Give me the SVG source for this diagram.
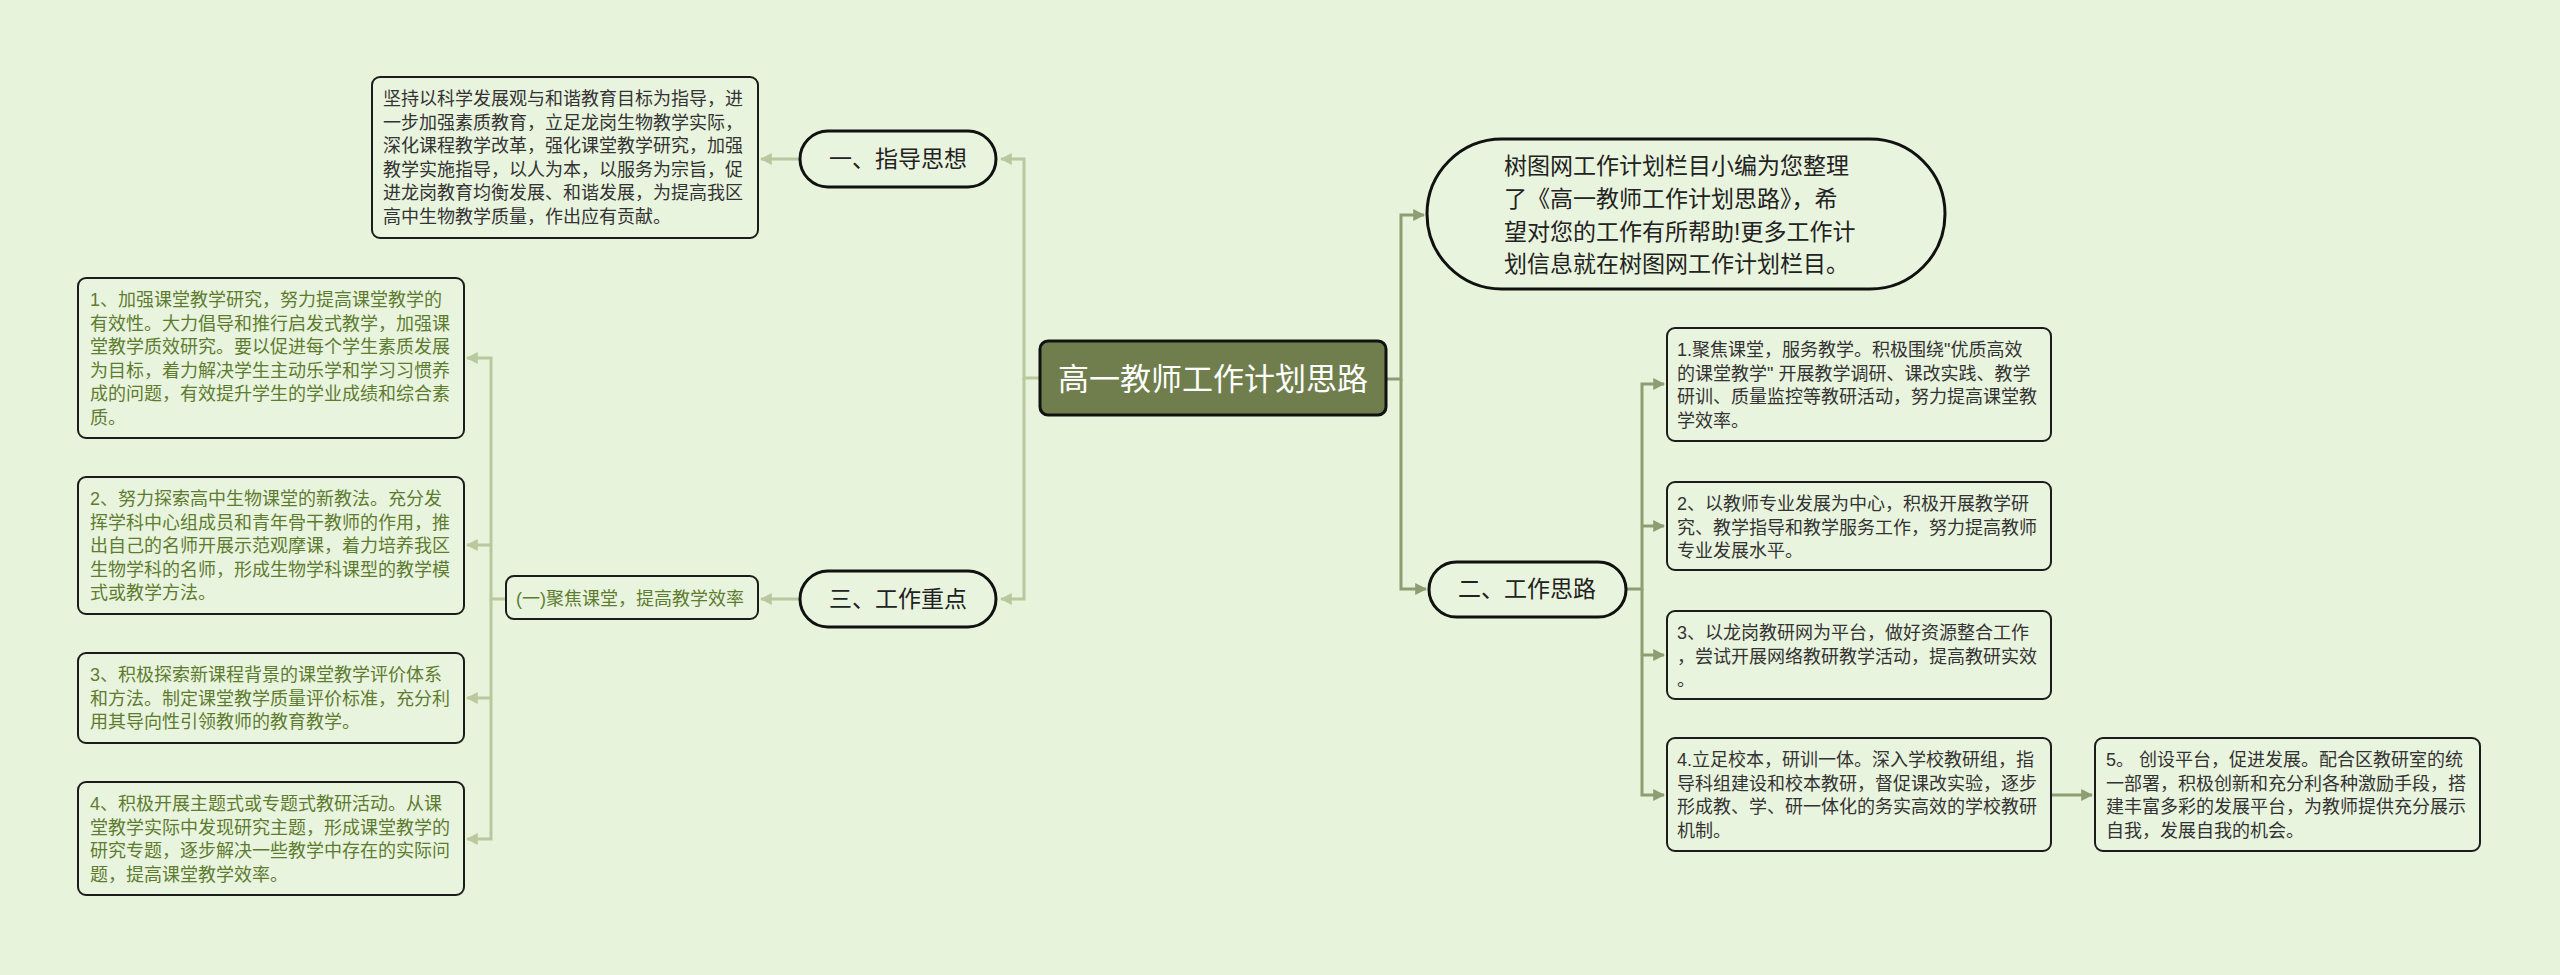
<svg xmlns="http://www.w3.org/2000/svg" width="2560" height="975" viewBox="0 0 2560 975">
<defs>
<style>
.t{font-family:"Liberation Sans","Noto Sans CJK SC",sans-serif;}
.box{fill:#e9f4de;stroke:#1c1c1c;stroke-width:2;}
.pill{fill:#e9f4de;stroke:#111;stroke-width:3;}
.lt{font-size:18px;fill:#5e7c30;}
.rt{font-size:18px;fill:#333;}
.pt{font-size:23px;fill:#222;text-anchor:middle;}
.cl{fill:none;stroke:#b8c9a0;stroke-width:3;}
.cr{fill:none;stroke:#8f9e72;stroke-width:3;}
</style>
<marker id="al" viewBox="0 0 10 10" refX="9" refY="5" markerWidth="4" markerHeight="4" orient="auto" markerUnits="strokeWidth"><path d="M0,0 L10,5 L0,10 z" fill="#b8c9a0"/></marker>
<marker id="ar" viewBox="0 0 10 10" refX="9" refY="5" markerWidth="4" markerHeight="4" orient="auto" markerUnits="strokeWidth"><path d="M0,0 L10,5 L0,10 z" fill="#8f9e72"/></marker>
</defs>
<rect width="2560" height="975" fill="#e7f3da"/>
<g id="connectors">
<path class="cl" d="M1040,378 H1024 V159 H1001" marker-end="url(#al)"/>
<path class="cl" d="M1024,378 V599 H1001" marker-end="url(#al)"/>
<path class="cl" d="M800,159 H761" marker-end="url(#al)"/>
<path class="cl" d="M800,599 H761" marker-end="url(#al)"/>
<path class="cl" d="M506,599 H491 V358 H467" marker-end="url(#al)"/>
<path class="cl" d="M491,599 V839 H467" marker-end="url(#al)"/>
<path class="cl" d="M491,545 H467" marker-end="url(#al)"/>
<path class="cl" d="M491,698 H467" marker-end="url(#al)"/>
<path class="cr" d="M1387,379 H1401 V215 H1424" marker-end="url(#ar)"/>
<path class="cr" d="M1401,379 V589 H1426" marker-end="url(#ar)"/>
<path class="cr" d="M1626,589 H1642 V384 H1664" marker-end="url(#ar)"/>
<path class="cr" d="M1642,589 V795 H1664" marker-end="url(#ar)"/>
<path class="cr" d="M1642,526 H1664" marker-end="url(#ar)"/>
<path class="cr" d="M1642,655 H1664" marker-end="url(#ar)"/>
<path class="cr" d="M2051,795 H2092" marker-end="url(#ar)"/>
</g>
<g id="center">
<rect x="1040" y="341" width="346" height="74" rx="8" fill="#707e4e" stroke="#111" stroke-width="3"/>
<text class="t" x="1213" y="390" font-size="31" fill="#fff" text-anchor="middle">高一教师工作计划思路</text>
</g>
<g id="intro">
<rect class="pill" x="1427" y="139" width="518" height="150" rx="75"/>
<text class="t" font-size="23" fill="#222"><tspan x="1504" y="174">树图网工作计划栏目小编为您整理</tspan><tspan x="1504" y="207">了《高一教师工作计划思路》，希</tspan><tspan x="1504" y="240">望对您的工作有所帮助!更多工作计</tspan><tspan x="1504" y="272">划信息就在树图网工作计划栏目。</tspan></text>
</g>
<g id="guide">
<rect class="pill" x="800" y="131" width="196" height="56" rx="28"/>
<text class="t pt" x="898" y="167">一、指导思想</text>
</g>
<g id="guide-text">
<rect class="box" x="372" y="77" width="386" height="161" rx="8"/>
<text class="t rt"><tspan x="383" y="105">坚持以科学发展观与和谐教育目标为指导，进</tspan><tspan x="383" y="128.5">一步加强素质教育，立足龙岗生物教学实际，</tspan><tspan x="383" y="152">深化课程教学改革，强化课堂教学研究，加强</tspan><tspan x="383" y="175.5">教学实施指导，以人为本，以服务为宗旨，促</tspan><tspan x="383" y="199">进龙岗教育均衡发展、和谐发展，为提高我区</tspan><tspan x="383" y="222.5">高中生物教学质量，作出应有贡献。</tspan></text>
</g>
<g id="focus">
<rect class="pill" x="800" y="571" width="196" height="56" rx="28"/>
<text class="t pt" x="898" y="607">三、工作重点</text>
</g>
<g id="focus-1">
<rect class="box" x="506" y="576" width="252" height="43" rx="8"/>
<text class="t lt" x="516" y="605">(一)聚焦课堂，提高教学效率</text>
</g>
<g id="l1">
<rect class="box" x="78" y="278" width="386" height="160" rx="8"/>
<text class="t lt"><tspan x="90" y="306">1、加强课堂教学研究，努力提高课堂教学的</tspan><tspan x="90" y="329.5">有效性。大力倡导和推行启发式教学，加强课</tspan><tspan x="90" y="353">堂教学质效研究。要以促进每个学生素质发展</tspan><tspan x="90" y="376.5">为目标，着力解决学生主动乐学和学习习惯养</tspan><tspan x="90" y="400">成的问题，有效提升学生的学业成绩和综合素</tspan><tspan x="90" y="423.5">质。</tspan></text>
</g>
<g id="l2">
<rect class="box" x="78" y="477" width="386" height="137" rx="8"/>
<text class="t lt"><tspan x="90" y="505">2、努力探索高中生物课堂的新教法。充分发</tspan><tspan x="90" y="528.5">挥学科中心组成员和青年骨干教师的作用，推</tspan><tspan x="90" y="552">出自己的名师开展示范观摩课，着力培养我区</tspan><tspan x="90" y="575.5">生物学科的名师，形成生物学科课型的教学模</tspan><tspan x="90" y="599">式或教学方法。</tspan></text>
</g>
<g id="l3">
<rect class="box" x="78" y="653" width="386" height="90" rx="8"/>
<text class="t lt"><tspan x="90" y="681">3、积极探索新课程背景的课堂教学评价体系</tspan><tspan x="90" y="704.5">和方法。制定课堂教学质量评价标准，充分利</tspan><tspan x="90" y="728">用其导向性引领教师的教育教学。</tspan></text>
</g>
<g id="l4">
<rect class="box" x="78" y="782" width="386" height="113" rx="8"/>
<text class="t lt"><tspan x="90" y="810">4、积极开展主题式或专题式教研活动。从课</tspan><tspan x="90" y="833.5">堂教学实际中发现研究主题，形成课堂教学的</tspan><tspan x="90" y="857">研究专题，逐步解决一些教学中存在的实际问</tspan><tspan x="90" y="880.5">题，提高课堂教学效率。</tspan></text>
</g>
<g id="ideas">
<rect class="pill" x="1429" y="562" width="197" height="55" rx="27.5"/>
<text class="t pt" x="1527" y="597">二、工作思路</text>
</g>
<g id="r1">
<rect class="box" x="1667" y="328" width="384" height="113" rx="8"/>
<text class="t rt"><tspan x="1677" y="356">1.聚焦课堂，服务教学。积极围绕"优质高效</tspan><tspan x="1677" y="379.5">的课堂教学" 开展教学调研、课改实践、教学</tspan><tspan x="1677" y="403">研训、质量监控等教研活动，努力提高课堂教</tspan><tspan x="1677" y="426.5">学效率。</tspan></text>
</g>
<g id="r2">
<rect class="box" x="1667" y="482" width="384" height="88" rx="8"/>
<text class="t rt"><tspan x="1677" y="510">2、以教师专业发展为中心，积极开展教学研</tspan><tspan x="1677" y="533.5">究、教学指导和教学服务工作，努力提高教师</tspan><tspan x="1677" y="557">专业发展水平。</tspan></text>
</g>
<g id="r3">
<rect class="box" x="1667" y="611" width="384" height="88" rx="8"/>
<text class="t rt"><tspan x="1677" y="639">3、以龙岗教研网为平台，做好资源整合工作</tspan><tspan x="1677" y="662.5">，尝试开展网络教研教学活动，提高教研实效</tspan><tspan x="1677" y="686">。</tspan></text>
</g>
<g id="r4">
<rect class="box" x="1667" y="738" width="384" height="113" rx="8"/>
<text class="t rt"><tspan x="1677" y="766">4.立足校本，研训一体。深入学校教研组，指</tspan><tspan x="1677" y="789.5">导科组建设和校本教研，督促课改实验，逐步</tspan><tspan x="1677" y="813">形成教、学、研一体化的务实高效的学校教研</tspan><tspan x="1677" y="836.5">机制。</tspan></text>
</g>
<g id="r5">
<rect class="box" x="2095" y="738" width="385" height="113" rx="8"/>
<text class="t rt"><tspan x="2106" y="766">5。 创设平台，促进发展。配合区教研室的统</tspan><tspan x="2106" y="789.5">一部署，积极创新和充分利各种激励手段，搭</tspan><tspan x="2106" y="813">建丰富多彩的发展平台，为教师提供充分展示</tspan><tspan x="2106" y="836.5">自我，发展自我的机会。</tspan></text>
</g>
</svg>
